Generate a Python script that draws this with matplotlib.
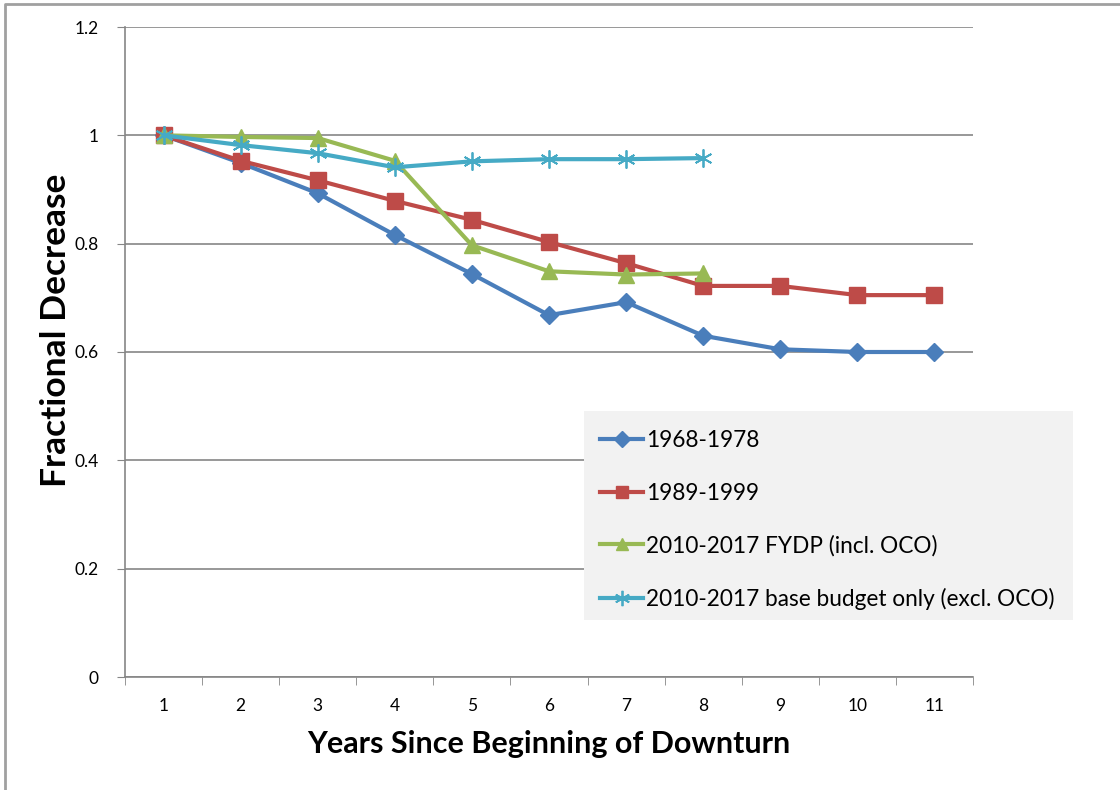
import numpy as np
import matplotlib.pyplot as plt
from matplotlib.lines import Line2D
from matplotlib.patches import Rectangle

# data
years = [1, 2, 3, 4, 5, 6, 7, 8, 9, 10, 11]
yr_2010 = years[:8]
s_1968 = [1.0, 0.949, 0.893, 0.816, 0.744, 0.668, 0.692, 0.630, 0.605, 0.600, 0.600]
s_1989 = [1.0, 0.953, 0.917, 0.879, 0.844, 0.803, 0.764, 0.722, 0.722, 0.705, 0.705]
s_fydp = [1.0, 0.997, 0.995, 0.953, 0.797, 0.749, 0.743, 0.745]
s_base = [1.0, 0.982, 0.967, 0.941, 0.952, 0.956, 0.956, 0.958]
labels = ["1968-1978", "1989-1999", "2010-2017 FYDP (incl. OCO)",
          "2010-2017 base budget only (excl. OCO)"]

plt.rcParams['font.family'] = ['Lato', 'DejaVu Sans']

W, H = 1120, 790
fig = plt.figure(figsize=(W / 100, H / 100), dpi=100)
ax = fig.add_axes([125 / W, 1 - 677 / H, (973 - 125) / W, (677 - 27) / H])

grid_c = '#868686'
ax.plot(years, s_1968, color='#4a7ebb', lw=3, marker='D', ms=9, label=labels[0])
ax.plot(years, s_1989, color='#be4b48', lw=3, marker='s', ms=11, label=labels[1])
ax.plot(yr_2010, s_fydp, color='#98b954', lw=3, marker='^', ms=11, label=labels[2])
ax.plot(yr_2010, s_base, color='#46aac5', lw=3, marker=(6, 2, 0), ms=13, mew=1.3,
        label=labels[3])

ax.set_xlim(0.5, 11.5)
ax.set_ylim(0, 1.2)
ax.set_yticks(np.arange(0, 1.21, 0.2))
ax.set_yticklabels(['0', '0.2', '0.4', '0.6', '0.8', '1', '1.2'])
ax.set_xticks(years)
ax.set_xticks(np.arange(0.5, 11.6, 1), minor=True)
ax.tick_params(axis='x', which='major', length=0, pad=15, labelsize=12.5)
ax.tick_params(axis='x', which='minor', length=6, color=grid_c, direction='out')
ax.tick_params(axis='y', length=6, color=grid_c, pad=13, labelsize=12.5)
ax.yaxis.grid(True, color=grid_c, lw=1.2)
ax.set_axisbelow(True)
for s in ['top', 'right']:
    ax.spines[s].set_visible(False)
for s in ['left', 'bottom']:
    ax.spines[s].set_color(grid_c)
    ax.spines[s].set_linewidth(1.2)

ax.set_xlabel("Years Since Beginning of Downturn", fontsize=22, fontweight='bold',
              labelpad=12)
ax.set_ylabel("Fractional Decrease", fontsize=25.5, fontweight='bold')
ax.yaxis.set_label_coords(-0.062, 0.534)

# legend box
fig.patches.append(Rectangle((584 / W, 1 - 620 / H), (1073 - 584) / W, (620 - 411) / H,
                             transform=fig.transFigure, facecolor='#f2f2f2',
                             edgecolor='none', zorder=3))
fig.legend(loc='upper left', bbox_to_anchor=(589 / W, 1 - 419 / H), frameon=False,
           fontsize=16.3, handlelength=1.9, handletextpad=0.1, labelspacing=1.38,
           borderpad=0, markerscale=0.85)

# chart frame
fig.add_artist(Line2D([5 / W, 5 / W, 1], [0, 1 - 4 / H, 1 - 4 / H],
                      transform=fig.transFigure, color='#a0a0a0', lw=2))

fig.savefig('out.png', dpi=100)
